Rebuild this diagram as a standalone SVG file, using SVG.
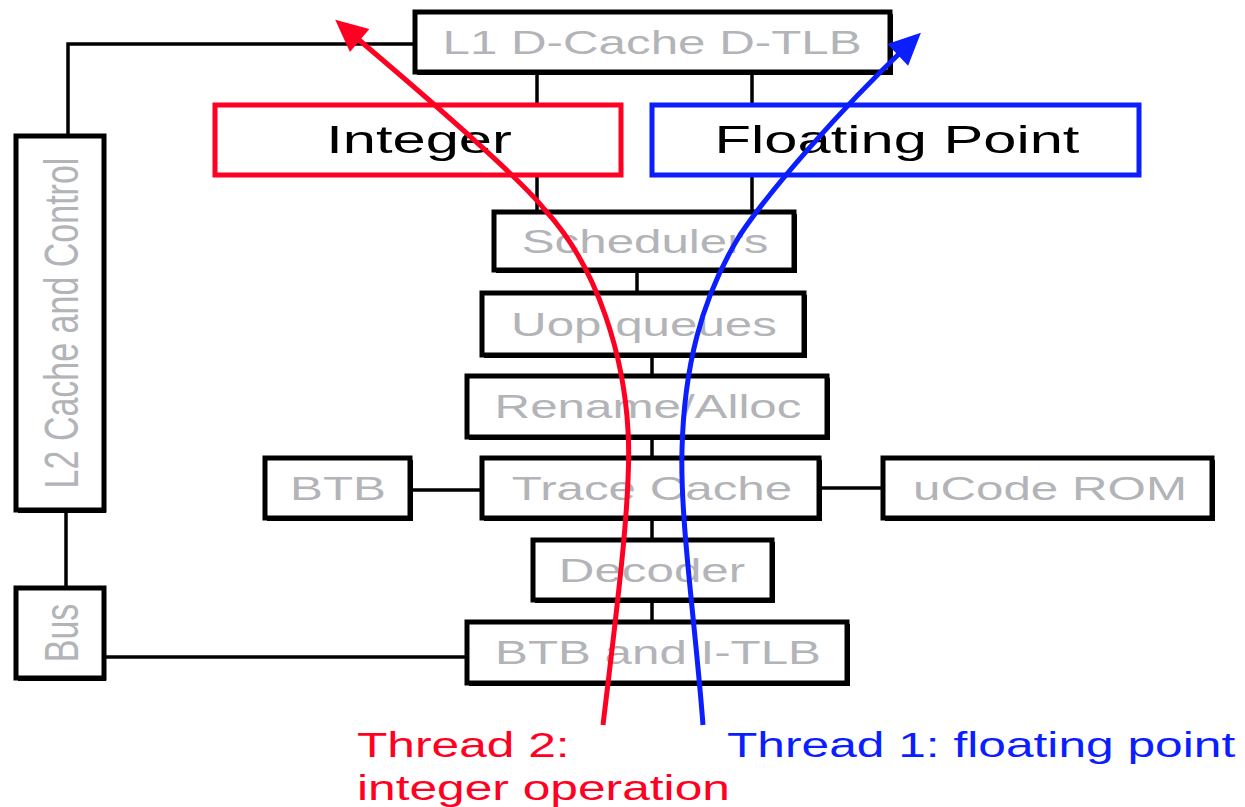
<svg xmlns="http://www.w3.org/2000/svg" width="1245" height="807" viewBox="0 0 1245 807">
<style>
.sh{fill:#000}
.bx{fill:#fff;stroke:#000;stroke-width:5}
.c{stroke:#000;stroke-width:3.5;fill:none}
.g{font-family:"Liberation Sans",Arial,sans-serif;font-size:34px;fill:#b2b4b8;text-anchor:middle}
.k{font-family:"Liberation Sans",Arial,sans-serif;font-size:39px;fill:#000;text-anchor:middle}
.t{font-family:"Liberation Sans",Arial,sans-serif;font-size:35px}
</style>
<defs>
<marker id="ar" viewBox="-12 -16 36 32" markerUnits="userSpaceOnUse" markerWidth="36" markerHeight="32" refX="0" refY="0" orient="auto">
<path d="M-10,-15 L22,0 L-10,15 Z" fill="#ff0022"/>
</marker>
<marker id="ab" viewBox="-12 -16 36 32" markerUnits="userSpaceOnUse" markerWidth="36" markerHeight="32" refX="0" refY="0" orient="auto">
<path d="M-10,-15 L22,0 L-10,15 Z" fill="#0a1eff"/>
</marker>
</defs>
<rect width="1245" height="807" fill="#fff"/>
<g id="connectors">
<polyline class="c" points="415,44 68,44 68,137"/>
<line class="c" x1="537" y1="72" x2="537" y2="105"/>
<line class="c" x1="752" y1="72" x2="752" y2="105"/>
<line class="c" x1="537" y1="175" x2="537" y2="212"/>
<line class="c" x1="752" y1="175" x2="752" y2="212"/>
<line class="c" x1="637" y1="270" x2="637" y2="293"/>
<line class="c" x1="652" y1="355" x2="652" y2="376"/>
<line class="c" x1="652" y1="437" x2="652" y2="458"/>
<line class="c" x1="652" y1="518" x2="652" y2="540"/>
<line class="c" x1="652" y1="600" x2="652" y2="622"/>
<line class="c" x1="411" y1="490" x2="482" y2="490"/>
<line class="c" x1="820" y1="488" x2="883" y2="488"/>
<line class="c" x1="66" y1="510" x2="66" y2="588"/>
<line class="c" x1="104" y1="657" x2="468" y2="657"/>
</g>
<g id="l1"><rect class="sh" x="417" y="14" width="476" height="61"/><rect class="bx" x="415" y="12" width="475" height="60"/><text class="g" transform="translate(652,54) scale(1.45,1)">L1 D-Cache D-TLB</text></g>
<g id="l2"><rect class="sh" x="18" y="138" width="88" height="375"/><rect class="bx" x="16" y="136" width="88" height="374"/><text class="g" transform="translate(78,323) scale(1.4,1) rotate(-90)">L2 Cache and Control</text></g>
<g id="bus"><rect class="sh" x="18" y="590" width="88" height="91"/><rect class="bx" x="16" y="588" width="88" height="90"/><text class="g" transform="translate(78,633) scale(1.4,1) rotate(-90)">Bus</text></g>
<g id="integer"><rect x="215" y="105" width="406" height="70" fill="#fff" stroke="#ff0022" stroke-width="5"/><text class="k" transform="translate(419,153) scale(1.53,1)">Integer</text></g>
<g id="fp"><rect x="652" y="105" width="487" height="70" fill="#fff" stroke="#0a1eff" stroke-width="5"/><text class="k" transform="translate(897,153) scale(1.53,1)">Floating Point</text></g>
<g id="sched"><rect class="sh" x="496" y="214" width="301" height="59"/><rect class="bx" x="494" y="212" width="300" height="58"/><text class="g" transform="translate(645,253) scale(1.45,1)">Schedulers</text></g>
<g id="uop"><rect class="sh" x="484" y="295" width="323" height="63"/><rect class="bx" x="482" y="293" width="322" height="62"/><text class="g" transform="translate(644,336) scale(1.45,1)">Uop queues</text></g>
<g id="rename"><rect class="sh" x="469" y="378" width="361" height="62"/><rect class="bx" x="467" y="376" width="360" height="61"/><text class="g" transform="translate(648,418) scale(1.45,1)">Rename/Alloc</text></g>
<g id="btb"><rect class="sh" x="267" y="460" width="146" height="61"/><rect class="bx" x="265" y="458" width="145" height="60"/><text class="g" transform="translate(338,500) scale(1.45,1)">BTB</text></g>
<g id="trace"><rect class="sh" x="484" y="460" width="338" height="61"/><rect class="bx" x="482" y="458" width="337" height="60"/><text class="g" transform="translate(652,500) scale(1.45,1)">Trace Cache</text></g>
<g id="ucode"><rect class="sh" x="885" y="460" width="330" height="61"/><rect class="bx" x="883" y="458" width="329" height="60"/><text class="g" transform="translate(1050,500) scale(1.45,1)">uCode ROM</text></g>
<g id="decoder"><rect class="sh" x="535" y="542" width="240" height="61"/><rect class="bx" x="533" y="540" width="239" height="60"/><text class="g" transform="translate(652,582) scale(1.45,1)">Decoder</text></g>
<g id="btbitlb"><rect class="sh" x="469" y="624" width="381" height="62"/><rect class="bx" x="467" y="622" width="380" height="61"/><text class="g" transform="translate(658,664) scale(1.45,1)">BTB and I-TLB</text></g>
<g id="threads">
<path d="M603,725 C618,600 632,490 628,430 C624,360 600,270 545,210 C520,178 430,100 352,34" fill="none" stroke="#ff0022" stroke-width="5" marker-end="url(#ar)"/>
<path d="M703,725 C695,620 680,520 682,450 C684,370 700,300 740,235 C770,190 840,110 905,48" fill="none" stroke="#0a1eff" stroke-width="5" marker-end="url(#ab)"/>
</g>
<g id="labels">
<text class="t" fill="#ff0022" transform="translate(357,757) scale(1.42,1)">Thread 2:</text>
<text class="t" fill="#ff0022" transform="translate(357,800) scale(1.42,1)">integer operation</text>
<text class="t" fill="#0a1eff" transform="translate(727,757) scale(1.42,1)">Thread 1: floating point</text>
</g>
</svg>
